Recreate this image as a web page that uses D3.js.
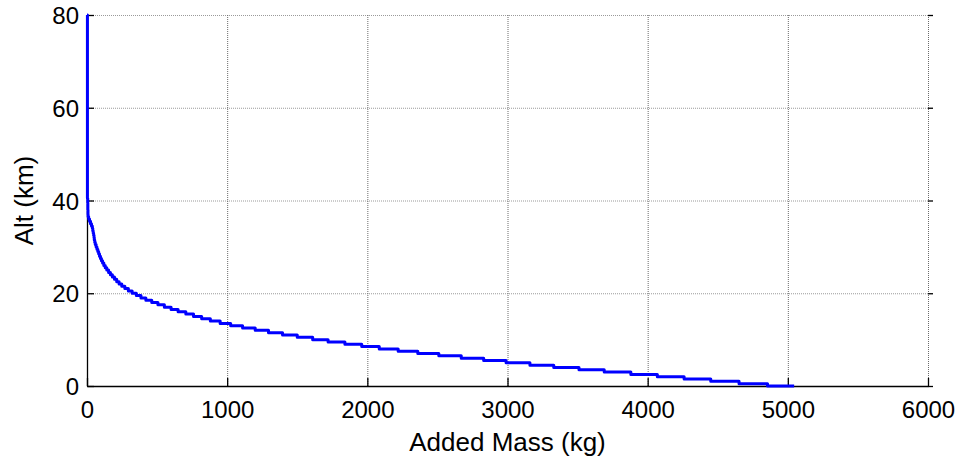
<!DOCTYPE html>
<html>
<head>
<meta charset="utf-8">
<script src="https://cdn.jsdelivr.net/npm/d3@7"></script>
<style>
  html, body { margin: 0; padding: 0; background: #fff; }
  svg { display: block; font-family: Arial, "Liberation Sans", sans-serif; }
</style>
</head>
<body>
<svg id="chart" width="959" height="460"></svg>
<script>
// Added mass (kg) needed at each altitude level (km), staircase profile
const massKg = [0, 3, 5, 5, 6, 6, 6, 7, 7, 8, 12, 18, 25, 32, 38, 41, 44, 47, 50, 52, 55, 59,
  65, 71, 77, 83, 89, 96, 103, 111, 120, 130, 141, 154, 167, 181, 196, 212, 229, 248, 270,
  295, 322, 352, 385, 420, 462, 506, 552, 600, 650, 705, 760, 818, 880, 950, 1025, 1110,
  1200, 1295, 1395, 1500, 1610, 1720, 1840, 1960, 2085, 2220, 2360, 2510, 2670, 2830, 2990,
  3160, 3330, 3510, 3690, 3880, 4069, 4260, 4450, 4652, 4855, 5045];
const altKm = [80, 40.5, 40, 39.5, 39, 38.5, 38, 37.5, 37, 36.5, 36, 35.5, 35, 34.5, 34, 33.5,
  33, 32.5, 32, 31.5, 31, 30.5, 30, 29.5, 29, 28.5, 28, 27.5, 27, 26.5, 26, 25.5, 25, 24.5,
  24, 23.5, 23, 22.5, 22, 21.5, 21, 20.5, 20, 19.5, 19, 18.5, 18, 17.5, 17, 16.5, 16, 15.5,
  15, 14.5, 14, 13.5, 13, 12.5, 12, 11.5, 11, 10.5, 10, 9.5, 9, 8.5, 8, 7.5, 7, 6.5, 6, 5.5,
  5, 4.5, 4, 3.5, 3, 2.5, 2, 1.5, 1, 0.5, 0, 0];

const xTicks = [0, 1000, 2000, 3000, 4000, 5000, 6000];
const yTicks = [0, 20, 40, 60, 80];
const xTitle = "Added Mass (kg)";
const yTitle = "Alt (km)";

const svg = d3.select("#chart");
const plotL = 87, plotR = 928, plotT = 15, plotB = 386;

const x = d3.scaleLinear().domain([0, 6000]).range([plotL, plotR]);
const y = d3.scaleLinear().domain([0, 80]).range([plotB, plotT]);

// dotted grid
const grid = svg.append("g");
grid.selectAll("line.h").data(yTicks.filter(d => d > 0)).join("line")
  .attr("x1", plotL).attr("x2", plotR)
  .attr("y1", d => y(d) + 0.5).attr("y2", d => y(d) + 0.5)
  .attr("stroke", "#9a9a9a").attr("stroke-width", 1.2).attr("stroke-dasharray", "1,1");
grid.selectAll("line.v").data(xTicks.filter(d => d > 0)).join("line")
  .attr("x1", d => x(d) + 0.5).attr("x2", d => x(d) + 0.5)
  .attr("y1", plotT).attr("y2", plotB)
  .attr("stroke", "#6a6a6a").attr("stroke-width", 1).attr("stroke-dasharray", "1,1");

// axes
const fmt = d3.format("d");
const xAxis = d3.axisBottom(x).tickValues(xTicks).tickFormat(fmt)
  .tickSizeInner(-8).tickSizeOuter(0).tickPadding(15);
const yAxis = d3.axisLeft(y).tickValues(yTicks).tickFormat(fmt)
  .tickSizeInner(-7).tickSizeOuter(0).tickPadding(8);

const gx = svg.append("g").attr("transform", `translate(0,${plotB})`).call(xAxis);
const gy = svg.append("g").attr("transform", `translate(${plotL},0)`).call(yAxis);

[gx, gy].forEach(g => {
  g.select(".domain").attr("stroke", "#000").attr("stroke-width", 1.3);
  g.selectAll(".tick line").attr("stroke", "#000").attr("stroke-width", 1.3);
  g.selectAll(".tick text").attr("fill", "#000").style("font-size", "24px")
    .style("font-family", "Arial, 'Liberation Sans', sans-serif");
});
gx.selectAll(".tick text").attr("dy", "0.71em");
gy.selectAll(".tick text").attr("dy", "0.36em");

// short outward ticks on the right edge
svg.append("g").selectAll("line").data(yTicks).join("line")
  .attr("x1", plotR).attr("x2", plotR + 5)
  .attr("y1", d => y(d) + 0.5).attr("y2", d => y(d) + 0.5)
  .attr("stroke", "#000").attr("stroke-width", 1.3);

// profile
const line = d3.line()
  .x((d, i) => x(massKg[i]))
  .y((d, i) => y(altKm[i]))
  .curve(d3.curveStepAfter);
svg.append("path")
  .datum(massKg)
  .attr("d", line)
  .attr("fill", "none")
  .attr("stroke", "#0000ff")
  .attr("stroke-width", 3)
  .attr("stroke-linejoin", "round");

// axis titles
svg.append("text")
  .attr("x", (plotL + plotR) / 2).attr("y", 451)
  .attr("text-anchor", "middle")
  .style("font-size", "26px").attr("fill", "#000")
  .text(xTitle);
svg.append("text")
  .attr("transform", `translate(33,${(plotT + plotB) / 2}) rotate(-90)`)
  .attr("text-anchor", "middle")
  .style("font-size", "26px").attr("fill", "#000")
  .text(yTitle);
</script>
</body>
</html>
